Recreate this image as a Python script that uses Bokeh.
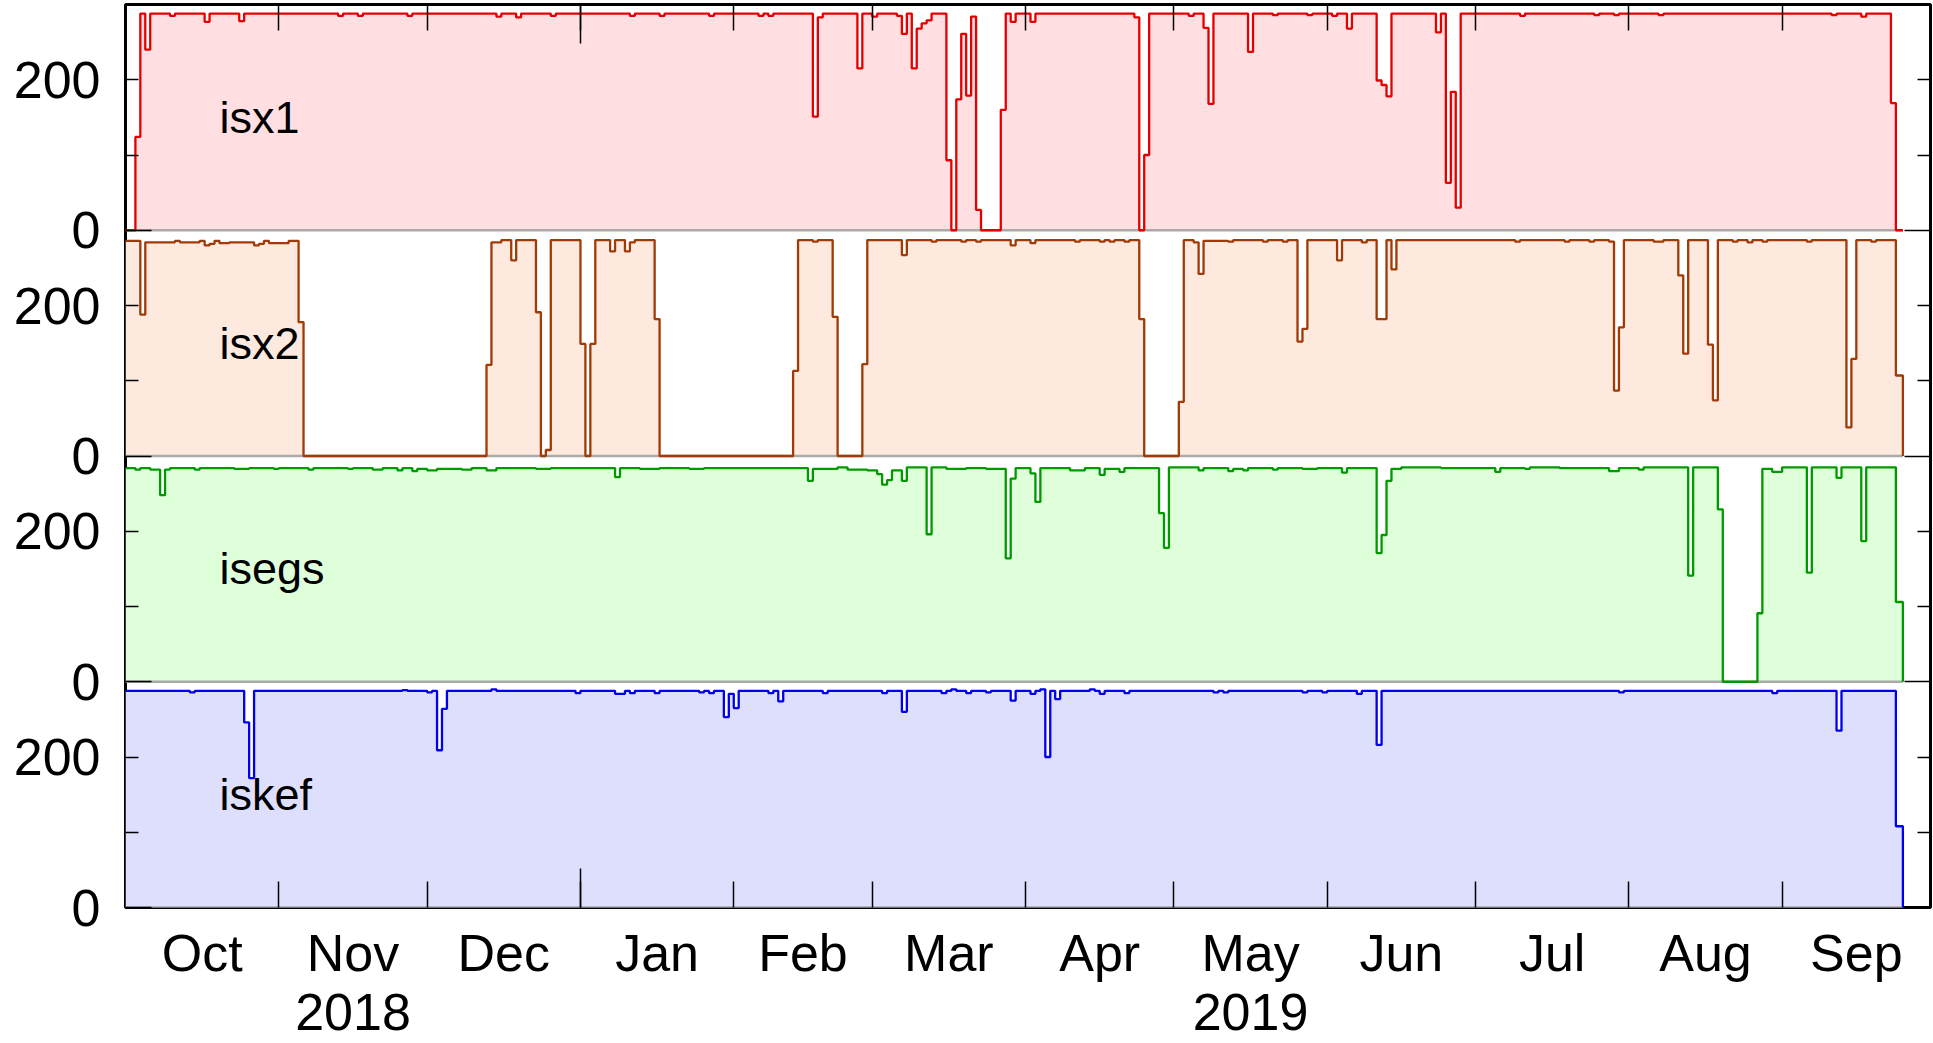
import pandas as pd
from bokeh.plotting import figure
from bokeh.models import (LinearAxis, FixedTicker, Range1d, ColumnDataSource,
                          CustomJSTickFormatter)
from bokeh.embed import file_html
from bokeh.resources import INLINE
from bokeh.core.properties import value

# ---------------- data (daily counts of 5-minute samples; step change points) ----------------
isx1_dates = [
    "2018-10-01", "2018-10-03", "2018-10-04", "2018-10-05", "2018-10-06", "2018-10-10", "2018-10-11",
    "2018-10-17", "2018-10-18", "2018-10-24", "2018-10-25", "2018-11-13", "2018-11-14", "2018-11-17",
    "2018-11-18", "2018-11-27", "2018-11-28", "2018-12-15", "2018-12-16", "2018-12-19", "2018-12-20",
    "2018-12-26", "2018-12-27", "2019-01-11", "2019-01-12", "2019-01-17", "2019-01-18", "2019-01-27",
    "2019-01-28", "2019-02-06", "2019-02-07", "2019-02-08", "2019-02-09", "2019-02-17", "2019-02-18",
    "2019-02-19", "2019-02-26", "2019-02-27", "2019-03-01", "2019-03-02", "2019-03-06", "2019-03-07",
    "2019-03-08", "2019-03-09", "2019-03-10", "2019-03-11", "2019-03-12", "2019-03-13", "2019-03-16",
    "2019-03-17", "2019-03-18", "2019-03-19", "2019-03-20", "2019-03-21", "2019-03-22", "2019-03-23",
    "2019-03-27", "2019-03-28", "2019-03-29", "2019-03-30", "2019-04-02", "2019-04-03", "2019-04-23",
    "2019-04-24", "2019-04-25", "2019-04-26", "2019-05-04", "2019-05-05", "2019-05-07", "2019-05-08",
    "2019-05-09", "2019-05-16", "2019-05-17", "2019-05-21", "2019-05-22", "2019-05-28", "2019-05-29",
    "2019-06-02", "2019-06-03", "2019-06-05", "2019-06-06", "2019-06-11", "2019-06-12", "2019-06-13",
    "2019-06-14", "2019-06-23", "2019-06-24", "2019-06-25", "2019-06-26", "2019-06-27", "2019-06-28",
    "2019-07-10", "2019-07-11", "2019-07-25", "2019-07-26", "2019-07-29", "2019-07-30", "2019-08-07",
    "2019-08-08", "2019-09-11", "2019-09-12", "2019-09-17", "2019-09-18", "2019-09-23", "2019-09-24",
]
isx1_values = [
    0, 124, 288, 240, 288, 285, 288,
    277, 288, 278, 288, 285, 288, 285,
    288, 285, 288, 284, 288, 283, 288,
    285, 288, 285, 288, 285, 288, 285,
    288, 285, 288, 285, 288, 151, 283,
    288, 215, 288, 284, 288, 285, 261,
    288, 215, 268, 275, 279, 288, 93,
    0, 174, 261, 179, 284, 27, 0,
    160, 288, 277, 288, 277, 288, 283,
    0, 100, 288, 285, 288, 269, 168,
    288, 237, 288, 286, 288, 286, 288,
    285, 288, 268, 288, 199, 193, 178,
    288, 263, 288, 63, 184, 30, 288,
    285, 288, 286, 288, 286, 288, 286,
    288, 286, 288, 284, 288, 169, 0,
]

isx2_dates = [
    "2018-10-01", "2018-10-04", "2018-10-05", "2018-10-11", "2018-10-12", "2018-10-16", "2018-10-17",
    "2018-10-18", "2018-10-19", "2018-10-20", "2018-10-22", "2018-10-27", "2018-10-28", "2018-10-29",
    "2018-10-30", "2018-11-03", "2018-11-05", "2018-11-06", "2018-12-13", "2018-12-14", "2018-12-16",
    "2018-12-18", "2018-12-19", "2018-12-23", "2018-12-24", "2018-12-25", "2018-12-26", "2019-01-01",
    "2019-01-02", "2019-01-03", "2019-01-04", "2019-01-07", "2019-01-08", "2019-01-10", "2019-01-11",
    "2019-01-12", "2019-01-16", "2019-01-17", "2019-02-13", "2019-02-14", "2019-02-17", "2019-02-18",
    "2019-02-21", "2019-02-22", "2019-02-27", "2019-02-28", "2019-03-07", "2019-03-08", "2019-03-13",
    "2019-03-14", "2019-03-19", "2019-03-20", "2019-03-22", "2019-03-23", "2019-03-29", "2019-03-30",
    "2019-04-02", "2019-04-03", "2019-04-11", "2019-04-12", "2019-04-16", "2019-04-17", "2019-04-18",
    "2019-04-19", "2019-04-21", "2019-04-22", "2019-04-24", "2019-04-25", "2019-05-02", "2019-05-03",
    "2019-05-05", "2019-05-06", "2019-05-07", "2019-05-12", "2019-05-13", "2019-05-19", "2019-05-20",
    "2019-05-23", "2019-05-24", "2019-05-26", "2019-05-27", "2019-05-28", "2019-06-03", "2019-06-04",
    "2019-06-08", "2019-06-09", "2019-06-11", "2019-06-13", "2019-06-14", "2019-06-15", "2019-07-09",
    "2019-07-10", "2019-07-19", "2019-07-20", "2019-07-24", "2019-07-25", "2019-07-28", "2019-07-29",
    "2019-07-30", "2019-07-31", "2019-08-06", "2019-08-08", "2019-08-11", "2019-08-12", "2019-08-13",
    "2019-08-17", "2019-08-18", "2019-08-19", "2019-08-22", "2019-08-23", "2019-08-25", "2019-08-26",
    "2019-08-28", "2019-08-29", "2019-09-06", "2019-09-07", "2019-09-14", "2019-09-15", "2019-09-16",
    "2019-09-19", "2019-09-20", "2019-09-24",
]
isx2_values = [
    286, 188, 284, 286, 284, 286, 280,
    282, 286, 283, 284, 280, 282, 286,
    283, 286, 178, 0, 121, 284, 287,
    260, 287, 191, 0, 8, 287, 149,
    0, 149, 287, 272, 287, 272, 284,
    287, 182, 0, 113, 287, 285, 287,
    185, 0, 122, 287, 267, 287, 285,
    287, 285, 287, 285, 287, 280, 287,
    283, 287, 285, 287, 285, 287, 285,
    287, 285, 287, 182, 0, 72, 287,
    284, 242, 286, 285, 287, 285, 287,
    285, 287, 152, 169, 287, 260, 287,
    284, 287, 182, 287, 248, 287, 285,
    287, 285, 287, 285, 287, 285, 87,
    171, 287, 285, 287, 240, 136, 287,
    148, 74, 287, 285, 287, 284, 287,
    285, 287, 285, 287, 38, 129, 287,
    285, 287, 107,
]

isegs_dates = [
    "2018-10-01", "2018-10-03", "2018-10-04", "2018-10-06", "2018-10-08", "2018-10-09", "2018-10-10",
    "2018-10-15", "2018-10-16", "2018-10-23", "2018-10-26", "2018-10-31", "2018-11-01", "2018-11-07",
    "2018-11-08", "2018-11-15", "2018-11-16", "2018-11-20", "2018-11-22", "2018-11-25", "2018-11-26",
    "2018-11-28", "2018-11-29", "2018-12-01", "2018-12-03", "2018-12-08", "2018-12-10", "2018-12-13",
    "2018-12-15", "2018-12-23", "2018-12-26", "2019-01-08", "2019-01-09", "2019-01-13", "2019-01-17",
    "2019-01-23", "2019-01-26", "2019-02-16", "2019-02-17", "2019-02-22", "2019-02-24", "2019-02-28",
    "2019-03-02", "2019-03-03", "2019-03-04", "2019-03-05", "2019-03-07", "2019-03-08", "2019-03-12",
    "2019-03-13", "2019-03-16", "2019-03-20", "2019-03-24", "2019-03-28", "2019-03-29", "2019-03-30",
    "2019-04-02", "2019-04-03", "2019-04-04", "2019-04-10", "2019-04-13", "2019-04-16", "2019-04-17",
    "2019-04-20", "2019-04-21", "2019-04-28", "2019-04-29", "2019-04-30", "2019-05-06", "2019-05-07",
    "2019-05-12", "2019-05-13", "2019-05-15", "2019-05-16", "2019-05-21", "2019-05-22", "2019-05-27",
    "2019-05-30", "2019-06-04", "2019-06-05", "2019-06-11", "2019-06-12", "2019-06-13", "2019-06-14",
    "2019-06-16", "2019-06-24", "2019-07-05", "2019-07-06", "2019-07-11", "2019-07-12", "2019-07-18",
    "2019-07-28", "2019-07-30", "2019-08-03", "2019-08-04", "2019-08-13", "2019-08-14", "2019-08-19",
    "2019-08-20", "2019-08-27", "2019-08-28", "2019-08-30", "2019-09-01", "2019-09-06", "2019-09-07",
    "2019-09-12", "2019-09-13", "2019-09-17", "2019-09-18", "2019-09-24",
]
isegs_values = [
    284, 282, 284, 282, 248, 282, 284,
    282, 284, 283, 284, 283, 284, 282,
    284, 283, 284, 282, 284, 281, 284,
    280, 283, 281, 283, 282, 284, 281,
    284, 283, 284, 272, 284, 283, 284,
    283, 284, 267, 283, 285, 282, 281,
    276, 262, 268, 281, 267, 285, 196,
    285, 283, 284, 283, 164, 270, 284,
    277, 239, 284, 281, 284, 275, 283,
    279, 284, 224, 178, 285, 281, 284,
    280, 283, 281, 284, 282, 284, 283,
    284, 278, 284, 171, 195, 267, 283,
    285, 284, 279, 284, 283, 285, 284,
    280, 284, 282, 285, 141, 285, 229,
    0, 91, 283, 279, 285, 145, 285,
    271, 285, 187, 285, 106,
]

iskef_dates = [
    "2018-10-01", "2018-10-14", "2018-10-15", "2018-10-25", "2018-10-26", "2018-10-27", "2018-11-26",
    "2018-11-27", "2018-12-01", "2018-12-02", "2018-12-03", "2018-12-04", "2018-12-05", "2018-12-14",
    "2018-12-15", "2018-12-31", "2019-01-01", "2019-01-08", "2019-01-10", "2019-01-11", "2019-01-12",
    "2019-01-16", "2019-01-17", "2019-01-25", "2019-01-26", "2019-01-27", "2019-01-28", "2019-01-30",
    "2019-01-31", "2019-02-01", "2019-02-02", "2019-02-08", "2019-02-09", "2019-02-10", "2019-02-11",
    "2019-02-19", "2019-02-20", "2019-03-03", "2019-03-04", "2019-03-07", "2019-03-08", "2019-03-15",
    "2019-03-16", "2019-03-17", "2019-03-18", "2019-03-20", "2019-03-21", "2019-03-24", "2019-03-25",
    "2019-03-29", "2019-03-30", "2019-04-02", "2019-04-03", "2019-04-04", "2019-04-05", "2019-04-06",
    "2019-04-07", "2019-04-08", "2019-04-14", "2019-04-15", "2019-04-16", "2019-04-17", "2019-04-21",
    "2019-04-22", "2019-05-09", "2019-05-10", "2019-05-11", "2019-05-12", "2019-05-27", "2019-05-28",
    "2019-05-31", "2019-06-01", "2019-06-07", "2019-06-08", "2019-06-11", "2019-06-12", "2019-07-30",
    "2019-07-31", "2019-08-30", "2019-08-31", "2019-09-12", "2019-09-13", "2019-09-24",
]
iskef_values = [
    288, 286, 288, 246, 172, 288, 289,
    288, 286, 288, 209, 264, 288, 290,
    288, 285, 288, 284, 288, 285, 288,
    285, 288, 286, 288, 285, 288, 253,
    284, 265, 288, 285, 288, 274, 288,
    285, 288, 285, 288, 260, 288, 285,
    288, 290, 288, 285, 288, 286, 288,
    275, 288, 284, 288, 290, 200, 288,
    277, 288, 290, 288, 284, 288, 285,
    288, 286, 288, 286, 288, 286, 288,
    286, 288, 284, 288, 216, 288, 286,
    288, 285, 288, 235, 288, 108,
]

record_end = "2019-09-25 10:00"          # last sample of every series
x_start, x_end = "2018-10-01", "2019-10-01"

series_names = ["isx1", "isx2", "isegs", "iskef"]
series_dates = [isx1_dates, isx2_dates, isegs_dates, iskef_dates]
series_values = [isx1_values, isx2_values, isegs_values, iskef_values]
panel_offsets = [900, 600, 300, 0]
PANEL_SPAN = 300

line_colors = ["#e40000", "#a03a06", "#009a00", "#0000ee"]
fill_colors = ["#ffdfe1", "#fde9de", "#dfffdb", "#dedffd"]

month_names = ["Oct", "Nov", "Dec", "Jan", "Feb", "Mar", "Apr", "May", "Jun", "Jul", "Aug", "Sep"]
year_labels = ["2018", "2019"]
year_label_month = ["2018-11-01", "2019-05-01"]
y_tick_values = [0, 200]
y_tick_text = ["0", "200"]

FONT = "Liberation Sans"


def ms(t):
    return pd.Timestamp(t).value / 1e6


def to_times(strings):
    return [pd.Timestamp(s) for s in strings]


p = figure(frame_width=1805, frame_height=903,
           min_border_left=125, min_border_right=3, min_border_top=4, min_border_bottom=135,
           x_range=Range1d(ms(x_start), ms(x_end)), y_range=Range1d(0, 4 * PANEL_SPAN),
           x_axis_location=None, y_axis_location=None, toolbar_location=None,
           output_backend="svg", background_fill_color="white", border_fill_color="white",
           outline_line_color="black", outline_line_width=3)
p.xgrid.grid_line_color = None
p.ygrid.grid_line_color = None

# ---------------- areas, baselines, step lines ----------------
sources = []
for dates, vals, off in zip(series_dates, series_values, panel_offsets):
    xs = to_times(dates + [record_end, record_end])
    ys = [v + off for v in vals] + [vals[-1] + off, off]
    sources.append(ColumnDataSource(dict(x=xs, y=ys)))

for src, off, fc in zip(sources, panel_offsets, fill_colors):
    p.varea_step(x="x", y1=off, y2="y", step_mode="after", source=src,
                 fill_color=fc, fill_alpha=1.0)

for dates, off in zip(series_dates, panel_offsets):
    p.line(x=[pd.Timestamp(dates[0]), pd.Timestamp(record_end)], y=[off, off],
           line_color="#aaaaaa", line_width=2.5)

for src, lc in zip(sources, line_colors):
    p.step(x="x", y="y", mode="after", source=src, line_color=lc, line_width=2.3)

# panel names
p.text(x=[pd.Timestamp("2018-10-20")] * 4, y=[off + PANEL_SPAN / 2 for off in panel_offsets],
       text=series_names, text_font=value(FONT), text_font_size=value("45px"),
       text_align="left", text_baseline="middle", text_color="black")

# ---------------- axes ----------------
month_starts = [ms(t) for t in pd.date_range(x_start, x_end, freq="MS")]
month_mids = [(a + b) / 2 for a, b in zip(month_starts[:-1], month_starts[1:])]
year_starts = [ms(t) for t in pd.date_range(x_start, x_end, freq="YS")]

BLANK = CustomJSTickFormatter(code="return '';")


def tick_axis(major, minor, major_len, minor_len):
    return LinearAxis(ticker=FixedTicker(ticks=major, minor_ticks=minor), axis_line_color=None,
                      major_tick_in=major_len, major_tick_out=0,
                      minor_tick_in=minor_len, minor_tick_out=0,
                      major_tick_line_color="black", minor_tick_line_color="black",
                      major_tick_line_width=1.5, minor_tick_line_width=1.5,
                      formatter=BLANK, major_label_text_font_size="1px",
                      major_label_standoff=0)


def label_axis(ticks, labels, standoff, line_height=1.2):
    return LinearAxis(
        ticker=FixedTicker(ticks=ticks, minor_ticks=[]), axis_line_color=None,
        major_tick_line_color=None, minor_tick_line_color=None,
        major_tick_in=0, major_tick_out=0, minor_tick_in=0, minor_tick_out=0,
        formatter=CustomJSTickFormatter(args=dict(names=labels), code="return names[index];"),
        major_label_text_font=FONT, major_label_text_font_size="52px",
        major_label_text_line_height=line_height,
        major_label_text_color="black", major_label_standoff=standoff)


x_minor = month_starts[1:-1]
p.add_layout(tick_axis(year_starts, x_minor, 39, 26), "below")
p.add_layout(tick_axis(year_starts, x_minor, 39, 26), "above")

y_major = sorted(panel_offsets)
y_minor = sorted(off + v for off in panel_offsets for v in (100, 200))
p.add_layout(tick_axis(y_major, y_minor, 26, 13), "left")
p.add_layout(tick_axis(y_major, y_minor, 26, 13), "right")

# month names centred in each month
p.add_layout(label_axis(month_mids, month_names, 16), "below")

# year names under November 2018 and May 2019
year_mids = []
for m in year_label_month:
    a = pd.Timestamp(m)
    b = a + pd.offsets.MonthBegin(1)
    year_mids.append((ms(a) + ms(b)) / 2)
p.add_layout(label_axis(year_mids, year_labels, 9, line_height=0.85), "below")

# y labels: 0 and 200 in every panel
y_label_pos = sorted(off + v for off in panel_offsets for v in y_tick_values)
y_label_txt = [y_tick_text[y_tick_values.index(v % PANEL_SPAN)] for v in y_label_pos]
p.add_layout(label_axis(y_label_pos, y_label_txt, 25), "left")

open("out.html", "w").write(file_html(p, INLINE, "stations"))
